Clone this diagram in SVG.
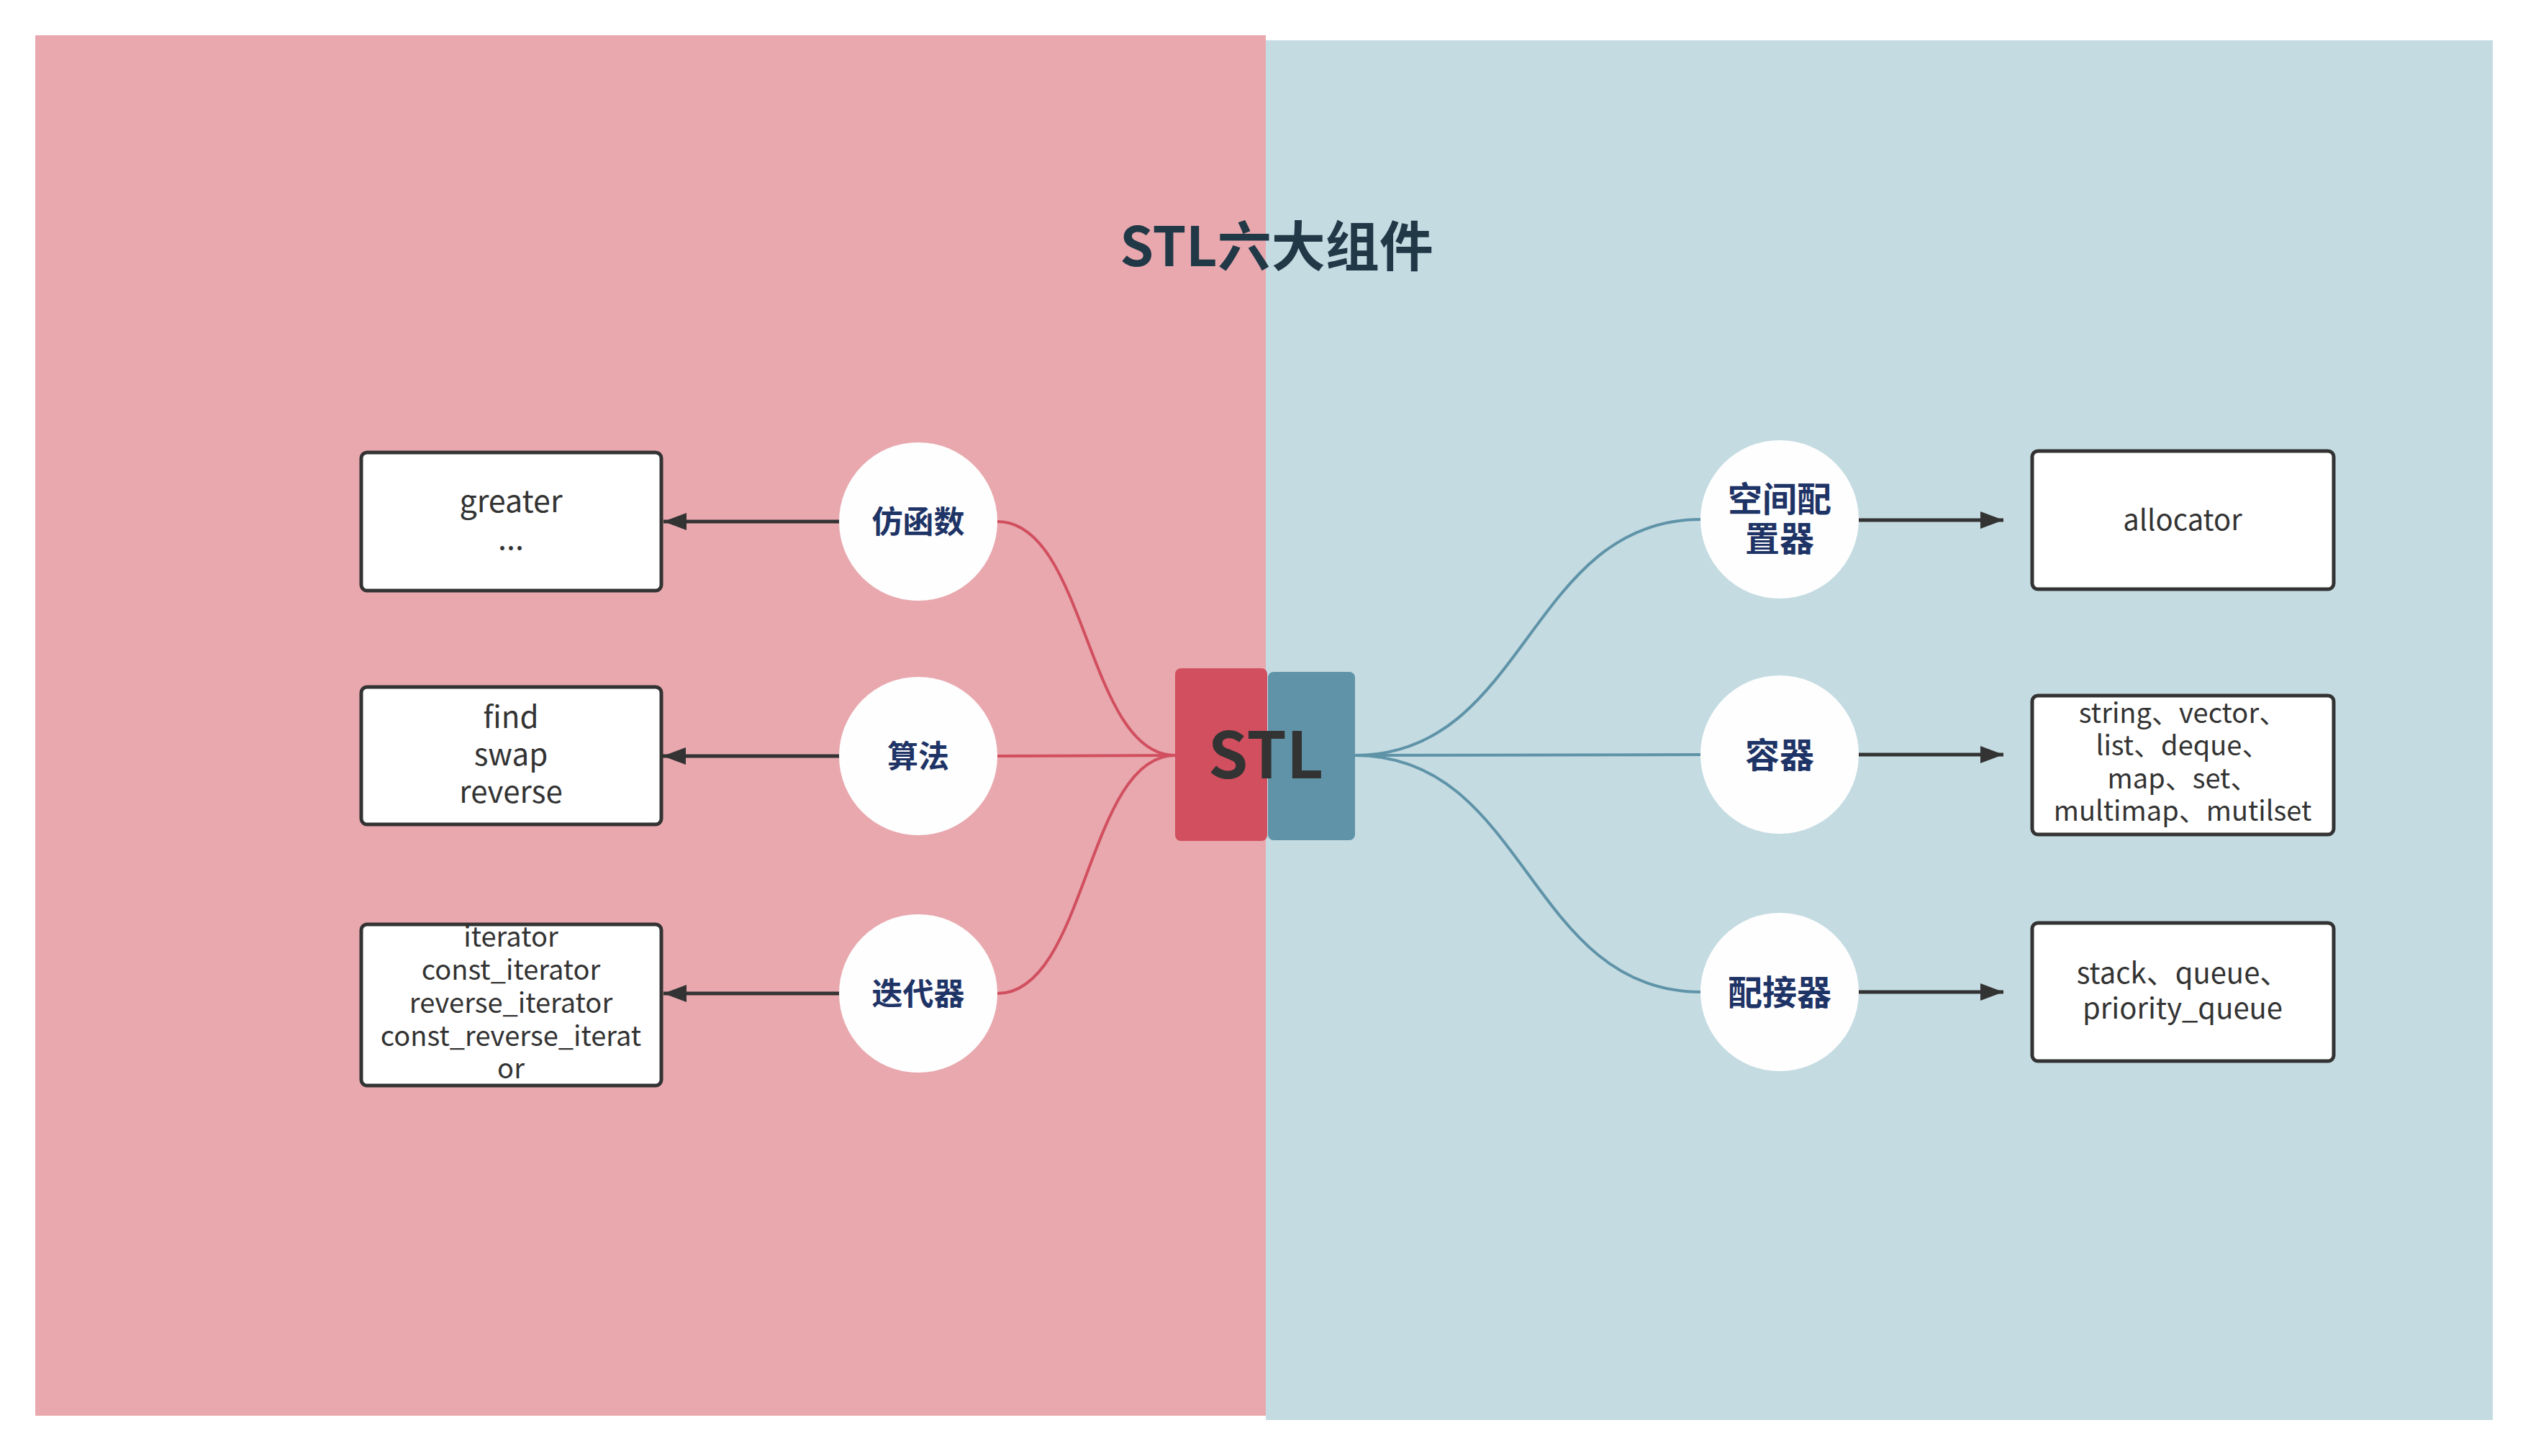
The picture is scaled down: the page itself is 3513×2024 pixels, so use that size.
<svg xmlns="http://www.w3.org/2000/svg" width="3513" height="2024" viewBox="0 0 3513 2024">
  <defs>
    <style>
      .t { font-family: "Noto Sans CJK SC", "Noto Sans", sans-serif; fill: #333333; text-anchor: middle; }
      .lbl { font-family: "Noto Sans CJK SC", sans-serif; font-weight: 700; fill: #1f3466; text-anchor: middle; }
      .box { fill: #ffffff; stroke: #333333; stroke-width: 5; }
      .circ { fill: #fefefe; }
      .arr { stroke: #333333; stroke-width: 5; fill: none; marker-end: url(#ah); }
      .cl { stroke: #d14f5f; stroke-width: 4; fill: none; }
      .cr { stroke: #5f93a8; stroke-width: 4; fill: none; }
    </style>
    <marker id="ah" viewBox="0 0 32 24" refX="32" refY="12" markerWidth="32" markerHeight="24" markerUnits="userSpaceOnUse" orient="auto">
      <path d="M0,0 L32,12 L0,24 Z" fill="#333333"/>
    </marker>
  </defs>

  <rect x="0" y="0" width="3513" height="2024" fill="#ffffff"/>
  <g id="panels">
    <rect x="49" y="49" width="1710" height="1919" fill="#e8a8ae"/>
    <rect x="1759" y="56" width="1705" height="1918" fill="#c4dbe2"/>
  </g>

  <g id="title">
    <text x="1774" y="370" font-family="Noto Sans CJK SC, sans-serif" font-weight="700" font-size="75" fill="#213847" text-anchor="middle">STL六大组件</text>
  </g>

  <g id="connectors">
    <path class="cl" d="M1386,725 C1510,725 1510,1050 1633,1050"/>
    <path class="cl" d="M1386,1051 L1633,1050"/>
    <path class="cl" d="M1386,1381 C1510,1381 1510,1050 1633,1050"/>
    <path class="cr" d="M1883,1050 C2123,1050 2123,722 2364,722"/>
    <path class="cr" d="M1883,1050 L2364,1049"/>
    <path class="cr" d="M1883,1050 C2123,1050 2123,1379 2364,1379"/>
    <path class="arr" d="M1167,725 L922,725"/>
    <path class="arr" d="M1167,1051 L921,1051"/>
    <path class="arr" d="M1167,1381 L922,1381"/>
    <path class="arr" d="M2583,723 L2784,723"/>
    <path class="arr" d="M2583,1049 L2784,1049"/>
    <path class="arr" d="M2583,1379 L2784,1379"/>
  </g>

  <g id="stl">
    <rect x="1633" y="929" width="128" height="240" rx="8" fill="#d14f5f"/>
    <rect x="1762" y="934" width="121" height="234" rx="8" fill="#6093a8"/>
    <text x="1759" y="1082" font-family="Noto Sans CJK SC, sans-serif" font-weight="700" font-size="89" fill="#333333" text-anchor="middle">STL</text>
  </g>

  <g id="functor">
    <circle class="circ" cx="1276" cy="725" r="110"/>
    <text class="lbl" x="1276" y="741" font-size="43">仿函数</text>
  </g>
  <g id="algorithm">
    <circle class="circ" cx="1276" cy="1051" r="110"/>
    <text class="lbl" x="1276" y="1067" font-size="43">算法</text>
  </g>
  <g id="iterator">
    <circle class="circ" cx="1276" cy="1381" r="110"/>
    <text class="lbl" x="1276" y="1397" font-size="43">迭代器</text>
  </g>

  <g id="allocator-node">
    <circle class="circ" cx="2473" cy="722" r="110"/>
    <text class="lbl" font-size="48"><tspan x="2473" y="711">空间配</tspan><tspan x="2473" y="766">置器</tspan></text>
  </g>
  <g id="container">
    <circle class="circ" cx="2473" cy="1049" r="110"/>
    <text class="lbl" x="2473" y="1067" font-size="48">容器</text>
  </g>
  <g id="adapter">
    <circle class="circ" cx="2473" cy="1379" r="110"/>
    <text class="lbl" x="2473" y="1397" font-size="48">配接器</text>
  </g>

  <g id="box-functor">
    <rect class="box" x="502" y="629" width="417" height="192" rx="8"/>
    <text class="t" font-size="43"><tspan x="710" y="712">greater</tspan><tspan x="710" y="764">...</tspan></text>
  </g>
  <g id="box-algorithm">
    <rect class="box" x="502" y="955" width="417" height="191" rx="8"/>
    <text class="t" font-size="42"><tspan x="710" y="1012">find</tspan><tspan x="710" y="1064">swap</tspan><tspan x="710" y="1116">reverse</tspan></text>
  </g>
  <g id="box-iterator">
    <rect class="box" x="502" y="1285" width="417" height="224" rx="8"/>
    <text class="t" font-size="38"><tspan x="710" y="1316">iterator</tspan><tspan x="710" y="1362">const_iterator</tspan><tspan x="710" y="1408">reverse_iterator</tspan><tspan x="710" y="1454">const_reverse_iterat</tspan><tspan x="710" y="1499">or</tspan></text>
  </g>

  <g id="box-allocator">
    <rect class="box" x="2824" y="627" width="419" height="192" rx="8"/>
    <text class="t" x="3033" y="737" font-size="40">allocator</text>
  </g>
  <g id="box-container">
    <rect class="box" x="2824" y="967" width="419" height="193" rx="8"/>
    <text class="t" font-size="38"><tspan x="3033" y="1005">string、vector、</tspan><tspan x="3033" y="1050">list、deque、</tspan><tspan x="3033" y="1096">map、set、</tspan><tspan x="3033" y="1141">multimap、mutilset</tspan></text>
  </g>
  <g id="box-adapter">
    <rect class="box" x="2824" y="1283" width="419" height="192" rx="8"/>
    <text class="t" font-size="40"><tspan x="3033" y="1367">stack、queue、</tspan><tspan x="3033" y="1416">priority_queue</tspan></text>
  </g>
</svg>
